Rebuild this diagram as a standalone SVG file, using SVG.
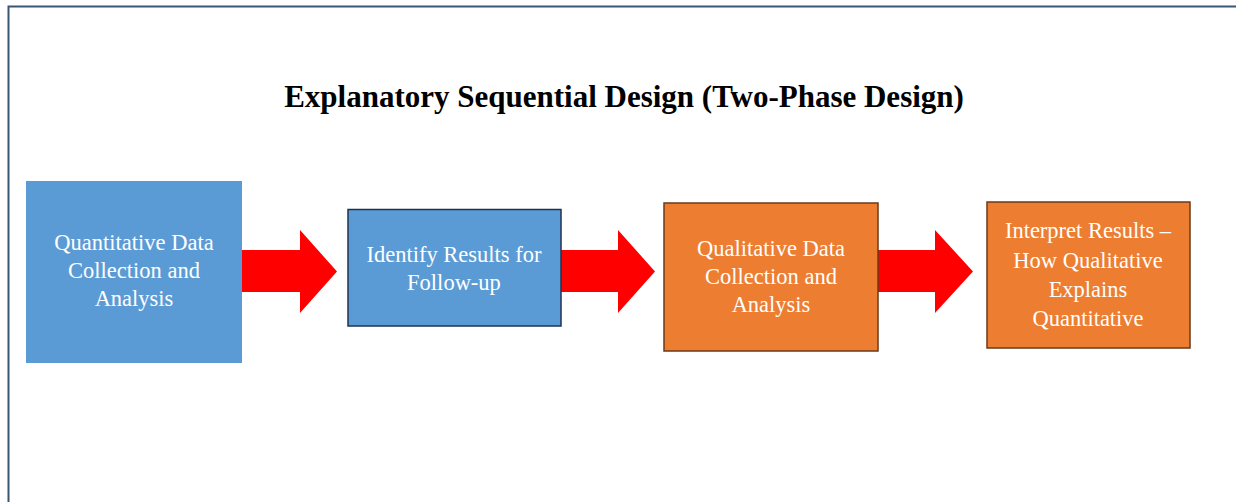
<svg xmlns="http://www.w3.org/2000/svg" width="1236" height="502" viewBox="0 0 1236 502">
<style>
.t{font-family:"Liberation Serif","Times New Roman",serif;font-size:22.5px;fill:#ffffff;text-anchor:middle}
.title{font-family:"Liberation Serif","Times New Roman",serif;font-size:31px;font-weight:bold;fill:#000;text-anchor:middle}
.blue{fill:#5b9bd5}
.orange{fill:#ed7d31;stroke:#6b3a1a;stroke-width:1.5}
.arrow{fill:#ff0000}
</style>
<rect x="0" y="0" width="1236" height="502" fill="#ffffff"/>
<path d="M8.5 502 V6.5 H1236" fill="none" stroke="#3b5575" stroke-width="2"/>
<text class="title" x="624" y="107">Explanatory Sequential Design (Two-Phase Design)</text>
<g id="connectors">
<polygon class="arrow" points="242,250 300,250 300,230 337,271.5 300,313 300,292 242,292"/>
<polygon class="arrow" points="561,250 618,250 618,230 655,271.5 618,313 618,292 561,292"/>
<polygon class="arrow" points="878,250 935,250 935,230 973,271.5 935,313 935,292 878,292"/>
</g>
<g id="node1">
<rect class="blue" x="26" y="181" width="216" height="182"/>
<text class="t" x="134" y="250">Quantitative Data</text>
<text class="t" x="134" y="278">Collection and</text>
<text class="t" x="134" y="306">Analysis</text>
</g>
<g id="node2">
<rect class="blue" x="348" y="209.5" width="213" height="116.5" stroke="#1f3350" stroke-width="1.5"/>
<text class="t" x="454" y="262">Identify Results for</text>
<text class="t" x="454" y="290">Follow-up</text>
</g>
<g id="node3">
<rect class="orange" x="664" y="203" width="214" height="148"/>
<text class="t" x="771" y="256">Qualitative Data</text>
<text class="t" x="771" y="284">Collection and</text>
<text class="t" x="771" y="312">Analysis</text>
</g>
<g id="node4">
<rect class="orange" x="987" y="202" width="203" height="146"/>
<text class="t" x="1088" y="238">Interpret Results –</text>
<text class="t" x="1088" y="268">How Qualitative</text>
<text class="t" x="1088" y="297">Explains</text>
<text class="t" x="1088" y="326">Quantitative</text>
</g>
</svg>
